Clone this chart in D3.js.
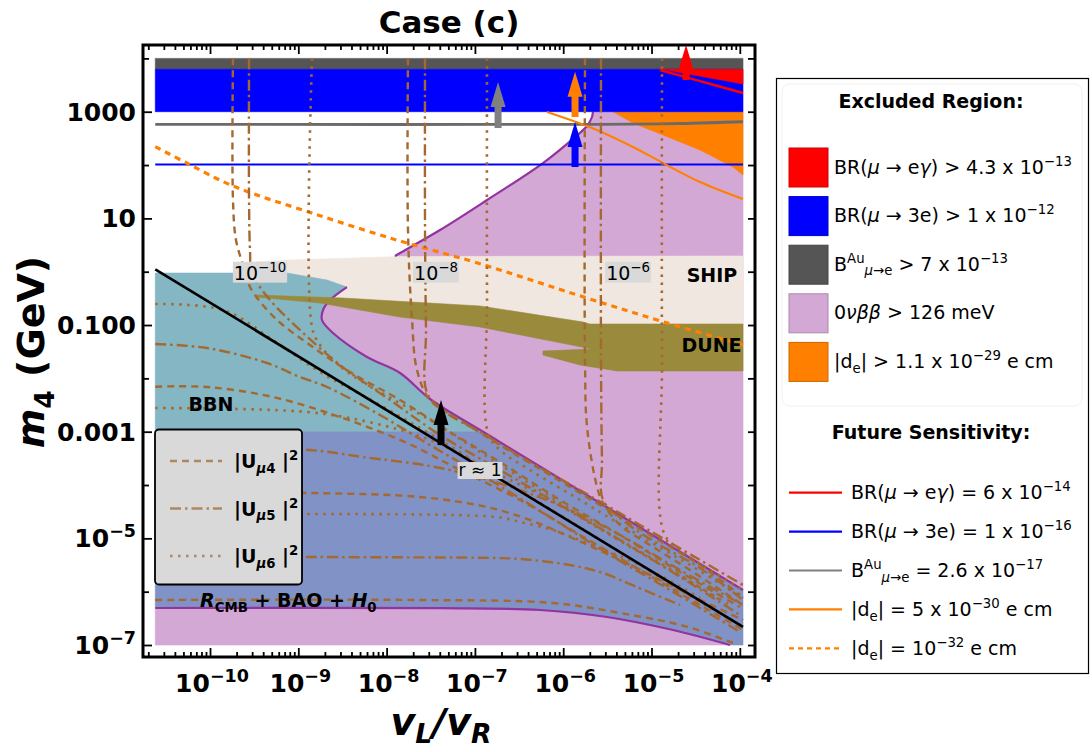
<!DOCTYPE html>
<html>
<head>
<meta charset="utf-8">
<script src="https://cdn.jsdelivr.net/npm/d3@7"></script>
<style>
body { margin:0; background:#fff; }
svg { display:block; font-family:"DejaVu Sans", sans-serif; }
</style>
</head>
<body>
<div id="chart"></div>
<script>
/* every pair below is [log10(vL/vR), log10(m4 / GeV)] */

// x extent of the computed grid
var xGrid = [-10.62, -3.964];

// excluded bands (log10 m4 from / to)
var bandBAu  = [3.795, 4.0];
var bandMu3e = [3.0, 3.795];

// excluded regions
var regionMuEGamma = [[-4.88,3.795],[-3.964,3.795],[-3.964,3.52]];
var regionEdm = [[-5.436,3.0],[-3.964,3.0],[-3.964,1.813],[-4.077,1.963],[-4.451,2.282],[-4.870,2.563],[-5.210,2.788]];

// 0vbb boundary (purple contour)
var nuUpperEdge = [[-5.663,3.0],[-5.674,2.901],[-5.730,2.732],[-5.866,2.525],[-6.229,2.038],[-6.863,1.344],[-7.395,0.782],[-7.848,0.350],[-7.905,0.294]];
var nuNoseEdge  = [[-8.449,-0.288],[-8.641,-0.531],[-8.720,-0.718],[-8.732,-0.906],[-8.607,-1.150],[-8.222,-1.600],[-7.848,-1.900],[-7.509,-2.387],[-6.829,-3.081],[-3.964,-5.969]];
var nuLowerEdge = [[-10.62,-6.306],[-7.395,-6.31],[-6.263,-6.344],[-5.504,-6.475],[-4.757,-6.719],[-4.111,-7.0]];

// BBN / CMB
var bbnTop   = [[-10.62,-0.025],[-9.128,-0.025],[-8.675,-0.156]];
var bbnFloor = -3.0;
var massFloor = -7.0;

// SHIP and DUNE sensitivity
var shipRegion = [[-9.49,0.182],[-9.128,0.219],[-7.848,0.285],[-3.964,0.294],[-3.964,-0.981],[-5.776,-0.981],[-6.942,-0.718],[-8.494,-0.531],[-9.49,-0.531]];
var duneRegion = [[-9.479,-0.437],[-8.494,-0.494],[-6.942,-0.643],[-5.776,-0.943],[-5.697,-0.981],[-3.964,-0.981],[-3.964,-1.862],[-5.391,-1.862],[-5.810,-1.750],[-6.229,-1.562],[-6.229,-1.487],[-5.674,-1.450],[-6.942,-1.037],[-7.848,-0.850],[-8.754,-0.587],[-9.479,-0.475]];

// future sensitivities
var futureBAu = [[-10.62,2.764],[-5.583,2.764],[-4.677,2.779],[-3.964,2.812]];
var futureMu3e = [[-10.62,2.01],[-3.964,2.01]];
var futureMuEGamma = [[-4.904,3.782],[-4.451,3.575],[-3.964,3.351]];
var futureEdm5 = [[-6.184,2.994],[-5.674,2.694],[-5.210,2.338],[-4.870,2.038],[-4.451,1.682],[-3.964,1.363]];
var futureEdm32 = [[-10.62,2.344],[-10.264,2.038],[-9.740,1.607],[-8.848,1.101],[-7.848,0.575],[-6.980,0.169],[-5.734,-0.493],[-4.870,-0.938],[-3.964,-1.375]];

// r = 1 line
var rEqualOne = [[-10.62,0.045],[-3.964,-6.662]];

// |U_mu4|^2 contours (dashed)
var uMu4 = [
  [[-9.740,4.0],[-9.740,1.344],[-9.706,0.594],[-9.626,0.125],[-9.547,-0.288],[-9.264,-0.869],[-8.868,-1.375],[-8.415,-1.881],[-7.848,-2.406],[-7.282,-3.006],[-6.716,-3.569],[-6.036,-4.281],[-5.357,-4.937],[-4.677,-5.631],[-3.998,-6.287]],
  [[-7.758,4.0],[-7.758,0.782],[-7.712,-0.906],[-7.656,-1.844],[-7.509,-2.406],[-7.169,-2.781],[-6.716,-3.25],[-6.150,-3.812],[-5.583,-4.375],[-5.017,-4.937],[-4.451,-5.5],[-3.998,-6.06]],
  [[-5.753,4.0],[-5.753,-1.656],[-5.730,-2.912],[-5.617,-4.037],[-5.549,-4.337],[-5.357,-4.75],[-5.017,-5.125],[-4.564,-5.594],[-3.964,-6.25]],
  [[-10.62,-2.156],[-10.034,-2.162],[-9.287,-2.350],[-8.528,-2.725],[-7.769,-3.212],[-7.169,-3.719],[-6.489,-4.281],[-5.810,-4.937],[-5.130,-5.594],[-4.451,-6.25],[-3.964,-6.719]],
  [[-10.62,-4.150],[-8.868,-4.150],[-7.622,-4.225],[-6.866,-4.412],[-6.376,-4.656],[-5.923,-4.975],[-5.357,-5.406],[-4.677,-5.969],[-3.964,-6.532]],
  [[-10.62,-6.156],[-7.622,-6.156],[-6.116,-6.212],[-5.357,-6.4],[-4.601,-6.656],[-4.077,-6.962]]
];
// |U_mu5|^2 contours (dash-dot)
var uMu5 = [
  [[-9.558,4.0],[-9.558,1.344],[-9.547,0.406],[-9.524,-0.025],[-9.320,-0.531],[-8.981,-1.094],[-8.528,-1.75],[-7.962,-2.406],[-7.395,-3.062],[-6.716,-3.719],[-6.036,-4.375],[-5.357,-5.031],[-4.564,-5.839],[-3.998,-6.437]],
  [[-7.565,4.0],[-7.565,0.782],[-7.554,-1.094],[-7.542,-2.275],[-7.339,-2.631],[-6.942,-3.006],[-6.376,-3.569],[-5.810,-4.094],[-5.130,-4.75],[-4.451,-5.406],[-3.964,-5.875]],
  [[-5.572,4.0],[-5.572,-1.656],[-5.561,-3.531],[-5.549,-4.281],[-5.300,-4.694],[-4.904,-5.125],[-4.451,-5.556],[-3.964,-6.156]],
  [[-10.62,-1.356],[-10.034,-1.431],[-9.354,-1.712],[-8.981,-1.975],[-8.675,-2.162],[-8.075,-2.687],[-7.509,-3.25],[-6.829,-3.906],[-6.150,-4.6],[-5.470,-5.312],[-4.791,-5.969],[-3.998,-6.756]],
  [[-10.62,-3.287],[-8.868,-3.344],[-8.267,-3.475],[-7.509,-3.644],[-7.056,-3.812],[-6.489,-4.094],[-5.923,-4.469],[-5.357,-4.937],[-4.677,-5.594],[-3.964,-6.25]],
  [[-10.62,-5.331],[-8.811,-5.350],[-6.750,-5.369],[-6.489,-5.387],[-5.923,-5.5],[-5.549,-5.65],[-5.168,-5.912],[-4.677,-6.25]]
];
// |U_mu6|^2 contours (dotted)
var uMu6 = [
  [[-8.845,4.0],[-8.845,-1.037],[-8.754,-1.375],[-8.471,-1.844],[-8.075,-2.256],[-7.509,-2.781],[-6.942,-3.381],[-6.263,-4.094],[-5.583,-4.806],[-4.904,-5.462],[-4.225,-6.156]],
  [[-6.863,4.0],[-6.863,-0.531],[-6.852,-3.025],[-6.716,-3.344],[-6.376,-3.719],[-5.810,-4.281],[-5.244,-4.844],[-4.564,-5.5],[-3.964,-6.119]],
  [[-4.881,4.0],[-4.881,-1.656],[-4.859,-4.9],[-4.677,-5.219],[-4.338,-5.594],[-3.964,-5.969]],
  [[-10.62,-0.606],[-9.853,-0.718],[-9.287,-1.281],[-8.754,-1.881],[-8.075,-2.5],[-7.395,-3.156],[-6.716,-3.869],[-6.036,-4.562],[-5.357,-5.256],[-4.677,-5.969],[-3.998,-6.625]],
  [[-10.62,-2.556],[-8.901,-2.631],[-8.154,-2.837],[-7.509,-3.156],[-6.829,-3.719],[-6.150,-4.281],[-5.470,-4.937],[-4.791,-5.594],[-4.111,-6.25]],
  [[-10.62,-4.562],[-6.750,-4.6],[-6.489,-4.694],[-6.116,-4.844],[-5.734,-5.088],[-5.130,-5.5],[-4.451,-6.119]]
];

// arrows: x, base, tip
var arrowMarks = [
  {key:'r',    x:-7.384, from:-3.25,  to:-2.406},
  {key:'bau',  x:-6.738, from:2.694,  to:3.557},
  {key:'edm',  x:-5.866, from:2.901,  to:3.75},
  {key:'mu3e', x:-5.866, from:1.963,  to:2.807},
  {key:'meg',  x:-4.609, from:3.594,  to:4.251}
];

// tick labels
var xTickExp = [-10,-9,-8,-7,-6,-5,-4];
var yTickExp = [3, 1, -1, -3, -5, -7];
var yTickText = [[['1000']],[['10']],[['0.100']],[['0.001']],[['10'],['\u22125','sup']],[['10'],['\u22127','sup']]];

// legend texts
var excludedLabels = [
  [['BR('],['\u03bc','i'],[' \u2192 e'],['\u03b3','i'],[') > 4.3 x 10'],['\u221213','sup']],
  [['BR('],['\u03bc','i'],[' \u2192 3e) > 1 x 10'],['\u221212','sup']],
  [['B'],['Au','sup'],['\u03bc','subi'],['\u2192e','sub'],[' > 7 x 10'],['\u221213','sup']],
  [['0'],['\u03bd\u03b2\u03b2','i'],[' > 126 meV']],
  [['|d'],['e','sub'],['| > 1.1 x 10'],['\u221229','sup'],[' e cm']]
];
var futureLabels = [
  [['BR('],['\u03bc','i'],[' \u2192 e'],['\u03b3','i'],[') = 6 x 10'],['\u221214','sup']],
  [['BR('],['\u03bc','i'],[' \u2192 3e) = 1 x 10'],['\u221216','sup']],
  [['B'],['Au','sup'],['\u03bc','subi'],['\u2192e','sub'],[' = 2.6 x 10'],['\u221217','sup']],
  [['|d'],['e','sub'],['| = 5 x 10'],['\u221230','sup'],[' e cm']],
  [['|d'],['e','sub'],['| = 10'],['\u221232','sup'],[' e cm']]
];

/*************************** DRAWING ***************************/
var W = 1092, H = 752;
var frame = {left:143, right:755, top:45, bottom:657};
var brown = '#A5692F';
var col = {
  bau:'#555555', mu3e:'#0000FF', meg:'#FF0000', nu:'#D4A8D4', edm:'#FF8000',
  bbn:'#85B6C4', cmb:'#8092C6', ship:'#F1E7E1', dune:'#998A3C', purple:'#9333A0',
  futBAu:'#6a6a6a', r:'#000000'
};

var x = d3.scaleLog().domain([Math.pow(10,-10.759), Math.pow(10,-3.828)]).range([frame.left, frame.right]);
var y = d3.scaleLog().domain([Math.pow(10,-7.225), Math.pow(10,4.251)]).range([frame.bottom, frame.top]);
function X(l){ return x(Math.pow(10,l)); }
function Y(l){ return y(Math.pow(10,l)); }
var lin = d3.line().x(function(d){return X(d[0]);}).y(function(d){return Y(d[1]);});
var smooth = d3.line().x(function(d){return X(d[0]);}).y(function(d){return Y(d[1]);}).curve(d3.curveCatmullRom.alpha(0.5));

var svg = d3.select('#chart').append('svg').attr('width', W).attr('height', H);
svg.append('rect').attr('width', W).attr('height', H).attr('fill', '#fff');
svg.append('defs').append('clipPath').attr('id','clip').append('rect')
  .attr('x', frame.left).attr('y', frame.top)
  .attr('width', frame.right-frame.left).attr('height', frame.bottom-frame.top);
var plot = svg.append('g').attr('clip-path','url(#clip)');

// rich text with italic / super / subscript parts
function rich(t, parts, size, subShift){
  var cur = 0, sb = subShift || 0.25;
  parts.forEach(function(p){
    var mode = p[1] || '', off = 0, fs = size;
    if (mode.indexOf('sup') >= 0) { off = -size*0.42; fs = size*0.7; }
    if (mode.indexOf('sub') >= 0) { off = size*sb; fs = size*0.7; }
    var ts = t.append('tspan').text(p[0]).attr('font-size', fs).attr('dy', off-cur);
    if (mode === 'i' || mode === 'subi') ts.attr('font-style', 'italic');
    cur = off;
  });
  return t;
}

function fillArea(data, fill){
  plot.append('path').attr('d', lin(data)+'Z').attr('fill', fill)
    .attr('stroke', fill).attr('stroke-width', 0.6);
}
function band(b, fill){
  fillArea([[xGrid[0],b[0]],[xGrid[1],b[0]],[xGrid[1],b[1]],[xGrid[0],b[1]]], fill);
}
function curve(data, color, w, dash){
  var p = plot.append('path').attr('d', smooth(data)).attr('fill','none')
    .attr('stroke', color).attr('stroke-width', w);
  if (dash) p.attr('stroke-dasharray', dash);
  return p;
}

// 0vbb regions
fillArea(nuUpperEdge.concat(nuNoseEdge, [[xGrid[1],3.0]]), col.nu);
fillArea(nuLowerEdge.concat([[xGrid[0],massFloor]]), col.nu);
// eEDM excluded
fillArea(regionEdm, col.edm);
// SHIP
fillArea(shipRegion, col.ship);
// BBN
fillArea(bbnTop.concat(nuNoseEdge.slice(0,8), [[-6.908,bbnFloor],[xGrid[0],bbnFloor]]), col.bbn);
// CMB + BAO + H0
fillArea([[xGrid[0],bbnFloor],[-6.908,bbnFloor]].concat(nuNoseEdge.slice(8), [[xGrid[1],massFloor]], nuLowerEdge.slice().reverse()), col.cmb);
// purple 0vbb contour
curve(nuUpperEdge, col.purple, 2.2);
curve(nuNoseEdge, col.purple, 2.2);
curve(nuLowerEdge, col.purple, 2.2);
// DUNE
fillArea(duneRegion, col.dune);
// LFV bands
band(bandBAu, col.bau);
band(bandMu3e, col.mu3e);
fillArea(regionMuEGamma, col.meg);

// future sensitivity lines
curve(futureBAu, col.futBAu, 2.8);
curve(futureMu3e, col.mu3e, 2);
curve(futureEdm5, col.edm, 2);
curve(futureEdm32, col.edm, 3.2, '6,5');
curve(futureMuEGamma, col.meg, 2.4);

// |U|^2 contours
var dashes = {u4:'7,5', u5:'11,4,2.5,4', u6:'2.5,5.5'};
uMu4.forEach(function(c){ curve(c, brown, 2.4, dashes.u4); });
uMu5.forEach(function(c){ curve(c, brown, 2.4, dashes.u5); });
uMu6.forEach(function(c){ curve(c, brown, 2.6, dashes.u6); });

// r = 1
plot.append('path').attr('d', lin(rEqualOne)).attr('stroke', '#000').attr('stroke-width', 2.6).attr('fill','none');

// arrows
var arrowCol = {r:'#000', bau:'#808080', edm:col.edm, mu3e:col.mu3e, meg:col.meg};
arrowMarks.forEach(function(a){
  var cx = X(a.x), yb = Y(a.from), yt = Y(a.to), c = arrowCol[a.key];
  plot.append('rect').attr('x', cx-3.5).attr('y', yt+22).attr('width', 7).attr('height', yb-yt-22).attr('fill', c);
  plot.append('path').attr('d', 'M'+(cx-7.5)+','+(yt+25)+'L'+cx+','+yt+'L'+(cx+7.5)+','+(yt+25)+'Z').attr('fill', c);
});

// contour value labels with grey boxes
function boxedLabel(cx, base, parts, size){
  var g = plot.append('g');
  var t = rich(g.append('text').attr('x', cx).attr('y', base).attr('text-anchor','middle'), parts, size);
  var b = t.node().getBBox();
  g.insert('rect','text').attr('x', b.x-1).attr('y', b.y+2).attr('width', b.width+2).attr('height', b.height-3).attr('fill', '#D9D9D9');
}
boxedLabel(X(-9.434), Y(0)+8, [['10'],['\u221210','sup']], 19);
boxedLabel(X(-7.441), Y(0)+8, [['10'],['\u22128','sup']], 19);
boxedLabel(X(-5.266), Y(0)+8, [['10'],['\u22126','sup']], 19);
boxedLabel(X(-6.942), Y(-3.719)+6, [['r \u2248 1']], 17);

function boldLabel(cx, base, parts, anchor){
  rich(plot.append('text').attr('x', cx).attr('y', base).attr('text-anchor', anchor||'middle')
    .attr('font-weight','bold'), parts, 19);
}
boldLabel(X(-4.315), Y(-0.062)+7, [['SHIP']]);
boldLabel(X(-4.32), Y(-1.375)+7, [['DUNE']]);
boldLabel(X(-9.989), Y(-2.481)+7, [['BBN']]);
boldLabel(X(-10.113), Y(-6.284), [['R','i'],['CMB','sub'],[' + BAO + '],['H','i'],['0','sub']], 'start');

// in-plot legend for the |U|^2 line styles
var lg = plot.append('g');
lg.append('rect').attr('x', 155).attr('y', 429.5).attr('width', 147).attr('height', 155).attr('rx', 4)
  .attr('fill', '#D9D9D9').attr('stroke', '#000').attr('stroke-width', 1.8);
[['4','u4'],['5','u5'],['6','u6']].forEach(function(d, i){
  var yy = 461 + i*47.5;
  lg.append('line').attr('x1', 170).attr('x2', 222).attr('y1', yy).attr('y2', yy)
    .attr('stroke', '#B08760').attr('stroke-width', 2.4).attr('stroke-dasharray', dashes[d[1]]);
  rich(lg.append('text').attr('x', 234).attr('y', yy+7).attr('font-weight','bold'),
    [['|U'],['\u03bc','subi'],[d[0],'sub'],[' |'],['2','sup']], 19);
});

// axes: inward ticks on all four sides
var xMajor = xTickExp.map(function(e){ return Math.pow(10,e); });
var xMinor = [];
for (var e = -11; e <= -4; e++) for (var m = 2; m <= 9; m++) {
  var v = m*Math.pow(10,e);
  if (v > x.domain()[0] && v < x.domain()[1]) xMinor.push(v);
}
var yAll = d3.range(-7, 5).map(function(e){ return Math.pow(10,e); });
var yMajor = yTickExp.map(function(e){ return Math.pow(10,e); });
var yMinor = yAll.filter(function(v){ return yMajor.indexOf(v) < 0; });

function axisG(ax, tr){
  var g = svg.append('g').attr('transform', tr).call(ax.tickFormat(''));
  g.select('.domain').remove();
  g.selectAll('line').attr('stroke', '#000').attr('stroke-width', 1.8);
  g.selectAll('text').remove();
}
axisG(d3.axisBottom(x).tickValues(xMajor).tickSize(-9), 'translate(0,'+frame.bottom+')');
axisG(d3.axisBottom(x).tickValues(xMinor).tickSize(-5), 'translate(0,'+frame.bottom+')');
axisG(d3.axisTop(x).tickValues(xMajor).tickSize(-9), 'translate(0,'+frame.top+')');
axisG(d3.axisTop(x).tickValues(xMinor).tickSize(-5), 'translate(0,'+frame.top+')');
axisG(d3.axisLeft(y).tickValues(yMajor).tickSize(-9), 'translate('+frame.left+',0)');
axisG(d3.axisLeft(y).tickValues(yMinor).tickSize(-6), 'translate('+frame.left+',0)');
axisG(d3.axisRight(y).tickValues(yAll).tickSize(-7), 'translate('+frame.right+',0)');

svg.append('rect').attr('x', frame.left).attr('y', frame.top)
  .attr('width', frame.right-frame.left).attr('height', frame.bottom-frame.top)
  .attr('fill','none').attr('stroke','#000').attr('stroke-width', 3);

// tick labels
xTickExp.forEach(function(e){
  rich(svg.append('text').attr('x', x(Math.pow(10,e))+2).attr('y', 692).attr('text-anchor','middle')
    .attr('font-weight','bold'), [['10'],['\u2212'+(-e),'sup']], 25);
});
yTickExp.forEach(function(e, i){
  rich(svg.append('text').attr('x', 136).attr('y', y(Math.pow(10,e))+9).attr('text-anchor','end')
    .attr('font-weight','bold'), yTickText[i], 25);
});

// titles
svg.append('text').attr('x', 449).attr('y', 33).attr('text-anchor','middle')
  .attr('font-weight','bold').attr('font-size', 31).text('Case (c)');
rich(svg.append('text').attr('x', 441).attr('y', 735).attr('text-anchor','middle').attr('font-weight','bold'),
  [['v','i'],['L','subi'],['/','i'],['v','i'],['R','subi']], 38, 0.2);
rich(svg.append('text').attr('transform','translate(44,352) rotate(-90)').attr('text-anchor','middle').attr('font-weight','bold'),
  [['m','i'],['4','sub'],[' (GeV)']], 38);

// right-hand legend
var leg = svg.append('g');
leg.append('rect').attr('x', 776.5).attr('y', 78.5).attr('width', 312).attr('height', 595)
  .attr('fill', '#fff').attr('stroke', '#000').attr('stroke-width', 1.2);
leg.append('rect').attr('x', 782).attr('y', 84).attr('width', 300).attr('height', 322).attr('rx', 8)
  .attr('fill', 'none').attr('stroke', '#f0f0f0').attr('stroke-width', 1);
leg.append('text').attr('x', 931).attr('y', 108).attr('text-anchor','middle').attr('font-weight','bold')
  .attr('font-size', 19).text('Excluded Region:');
leg.append('text').attr('x', 931).attr('y', 439).attr('text-anchor','middle').attr('font-weight','bold')
  .attr('font-size', 19).text('Future Sensitivity:');

var excludedCols = [col.meg, col.mu3e, col.bau, col.nu, col.edm];
excludedLabels.forEach(function(parts, i){
  var y0 = 148 + i*48.6;
  leg.append('rect').attr('x', 789).attr('y', y0).attr('width', 39).attr('height', 39)
    .attr('fill', excludedCols[i]).attr('stroke', d3.color(excludedCols[i]).darker(0.6)).attr('stroke-width', 1);
  rich(leg.append('text').attr('x', 834).attr('y', y0+25.5), parts, 19);
});
var futureStyle = [[col.meg,null],[col.mu3e,null],['#808080',null],[col.edm,null],[col.edm,'5,4']];
futureLabels.forEach(function(parts, i){
  var y0 = 492.7 + i*38.9;
  var l = leg.append('line').attr('x1', 789).attr('x2', 842).attr('y1', y0).attr('y2', y0)
    .attr('stroke', futureStyle[i][0]).attr('stroke-width', 2.2);
  if (futureStyle[i][1]) l.attr('stroke-dasharray', futureStyle[i][1]);
  rich(leg.append('text').attr('x', 851).attr('y', y0+6.5), parts, 19);
});
</script>
</body>
</html>
